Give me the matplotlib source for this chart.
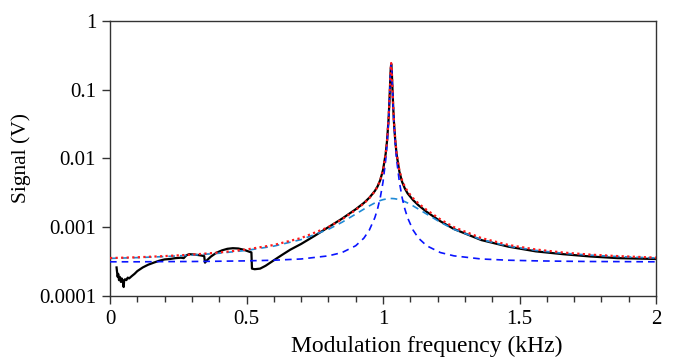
import matplotlib
matplotlib.use("Agg")
import matplotlib.pyplot as plt
from matplotlib.ticker import FixedLocator, MultipleLocator, FixedFormatter

# ---- data ----
freq_fit = [0, 0.1, 0.2, 0.3, 0.4, 0.5, 0.6, 0.7, 0.8, 0.85, 0.9, 0.93, 0.95, 0.97, 0.98,
            0.99, 1.0, 1.01, 1.015, 1.02, 1.023, 1.026, 1.028, 1.03,
            1.032, 1.034, 1.037, 1.04, 1.045, 1.05, 1.06, 1.07, 1.08, 1.09, 1.11, 1.13,
            1.16, 1.21, 1.26, 1.36, 1.46, 1.56, 1.66, 1.76, 1.86, 2.0]

narrow_fit = [3.14e-4, 3.14e-4, 3.16e-4, 3.17e-4, 3.20e-4, 3.24e-4, 3.31e-4, 3.45e-4, 3.83e-4,
              4.28e-4, 5.37e-4, 6.93e-4, 9.09e-4, 1.37e-3, 1.84e-3, 2.69e-3, 4.52e-3, 9.54e-3,
              0.0162, 0.0334, 0.0594, 0.120, 0.192, 0.240,
              0.192, 0.120, 0.0594, 0.0334, 0.0162, 9.54e-3, 4.52e-3, 2.69e-3, 1.84e-3, 1.37e-3,
              9.09e-4, 6.93e-4, 5.37e-4, 4.28e-4, 3.83e-4, 3.45e-4, 3.31e-4, 3.24e-4, 3.20e-4,
              3.17e-4, 3.16e-4, 3.14e-4]

broad_fit = [3.52e-4, 3.61e-4, 3.74e-4, 3.92e-4, 4.18e-4, 4.60e-4, 5.30e-4, 6.60e-4, 9.30e-4,
             1.18e-3, 1.55e-3, 1.83e-3, 2.04e-3, 2.25e-3, 2.35e-3, 2.44e-3, 2.51e-3, 2.56e-3,
             2.58e-3, 2.60e-3, 2.60e-3, 2.61e-3, 2.61e-3, 2.61e-3,
             2.61e-3, 2.61e-3, 2.60e-3, 2.60e-3, 2.58e-3, 2.56e-3, 2.51e-3, 2.44e-3, 2.35e-3,
             2.25e-3, 2.04e-3, 1.83e-3, 1.55e-3, 1.18e-3, 9.30e-4, 6.60e-4, 5.30e-4, 4.60e-4,
             4.18e-4, 3.92e-4, 3.74e-4, 3.57e-4]

total_fit = [3.56e-4, 3.65e-4, 3.80e-4, 3.99e-4, 4.28e-4, 4.74e-4, 5.51e-4, 6.95e-4, 1.00e-3,
             1.30e-3, 1.78e-3, 2.21e-3, 2.64e-3, 3.31e-3, 3.88e-3, 4.82e-3, 6.72e-3, 0.0118,
             0.0185, 0.0357, 0.0617, 0.1226, 0.1946, 0.2426,
             0.1946, 0.1226, 0.0617, 0.0357, 0.0185, 0.0118, 6.72e-3, 4.82e-3, 3.88e-3, 3.31e-3,
             2.64e-3, 2.21e-3, 1.78e-3, 1.30e-3, 1.00e-3, 6.95e-4, 5.51e-4, 4.74e-4, 4.28e-4,
             3.99e-4, 3.80e-4, 3.61e-4]

freq_data = [0.024, 0.026, 0.028, 0.030, 0.033, 0.036, 0.040, 0.043, 0.046, 0.048, 0.050,
             0.052, 0.055, 0.060, 0.065, 0.070, 0.080, 0.090, 0.10, 0.12, 0.14, 0.16, 0.18,
             0.20, 0.22, 0.24, 0.26, 0.27, 0.28, 0.29, 0.31, 0.33, 0.345, 0.348, 0.355, 0.37,
             0.39, 0.41, 0.43, 0.45, 0.47, 0.49, 0.51, 0.518, 0.520, 0.53, 0.55, 0.57, 0.60,
             0.63, 0.66, 0.70, 0.75, 0.80, 0.85, 0.90, 0.93, 0.95, 0.97, 0.98, 0.99, 1.0,
             1.01, 1.015, 1.02, 1.023, 1.026, 1.028, 1.03, 1.032, 1.034, 1.037, 1.04, 1.045,
             1.05, 1.06, 1.07, 1.08, 1.09, 1.11, 1.13, 1.16, 1.21, 1.26, 1.36, 1.46, 1.56,
             1.66, 1.76, 1.86, 2.0]

signal_data = [2.6e-4, 2.2e-4, 1.9e-4, 2.1e-4, 1.7e-4, 1.9e-4, 1.6e-4, 1.8e-4, 1.65e-4,
               1.55e-4, 1.35e-4, 1.7e-4, 1.75e-4, 1.7e-4, 1.85e-4, 1.8e-4, 1.95e-4, 2.1e-4,
               2.3e-4, 2.6e-4, 2.85e-4, 3.05e-4, 3.25e-4, 3.4e-4, 3.45e-4, 3.55e-4, 3.6e-4,
               3.55e-4, 3.9e-4, 4.05e-4, 4.0e-4, 3.9e-4, 3.8e-4, 3.05e-4, 3.3e-4, 3.75e-4,
               4.25e-4, 4.6e-4, 4.85e-4, 4.95e-4, 4.9e-4, 4.7e-4, 4.4e-4, 4.3e-4, 2.5e-4,
               2.45e-4, 2.5e-4, 2.75e-4, 3.3e-4, 3.95e-4, 4.7e-4, 5.7e-4, 7.5e-4, 1.0e-3,
               1.33e-3, 1.82e-3, 2.25e-3, 2.68e-3, 3.35e-3, 3.9e-3, 4.85e-3, 6.75e-3, 0.0118,
               0.0183, 0.035, 0.060, 0.120, 0.190, 0.235, 0.190, 0.120, 0.060, 0.034, 0.0178,
               0.0113, 6.4e-3, 4.55e-3, 3.65e-3, 3.1e-3, 2.48e-3, 2.08e-3, 1.67e-3, 1.22e-3,
               9.4e-4, 6.5e-4, 5.2e-4, 4.45e-4, 4.05e-4, 3.75e-4, 3.55e-4, 3.45e-4]

y_ticks = [1e-4, 1e-3, 1e-2, 1e-1, 1]
y_tick_labels = ["0.0001", "0.001", "0.01", "0.1", "1"]
x_ticks = [0, 0.5, 1, 1.5, 2]
x_tick_labels = ["0", "0.5", "1", "1.5", "2"]

# ---- figure ----
plt.rcParams['font.family'] = ['Liberation Serif', 'DejaVu Serif']
plt.rcParams['font.size'] = 15

fig = plt.figure(figsize=(6.74, 3.62), dpi=100)
ax = fig.add_axes([110 / 674, 1 - 296 / 362, 546 / 674, 275.3 / 362])

ax.plot(freq_data, signal_data, color='black', lw=1.6, zorder=2)
ax.plot(freq_fit, broad_fit, color='#1f8ad6', lw=1.2, ls=(0, (4, 3)), zorder=3)
ax.plot(freq_fit, narrow_fit, color='#0a14ff', lw=1.2, ls=(0, (4, 3)), zorder=4)
ax.plot(freq_fit, total_fit, color='#ff1a1a', lw=1.6, ls=(0, (1, 1.5)), zorder=5)

ax.set_yscale('log')
ax.set_ylim(1e-4, 1)
ax.set_xlim(0, 2)

ax.yaxis.set_major_locator(FixedLocator(y_ticks))
ax.yaxis.set_major_formatter(FixedFormatter(y_tick_labels))
ax.yaxis.set_minor_locator(FixedLocator([]))
ax.xaxis.set_major_locator(FixedLocator(x_ticks))
ax.xaxis.set_major_formatter(FixedFormatter(x_tick_labels))
ax.xaxis.set_minor_locator(MultipleLocator(0.1))

ax.tick_params(axis='both', which='major', direction='out', length=6, width=1,
               color='#333333', labelsize=15, pad=4)
ax.tick_params(axis='x', which='minor', direction='out', length=4, width=1, color='#333333')
ax.tick_params(top=False, right=False, which='both')

for s in ax.spines.values():
    s.set_color('#333333')
    s.set_linewidth(1.0)

fig.text(427 / 674, 1 - 346 / 362, 'Modulation frequency (kHz)', fontsize=17,
         ha='center', va='center')
ax.set_ylabel('Signal (V)', fontsize=15.5, labelpad=6)

fig.savefig('out.png', dpi=100)
